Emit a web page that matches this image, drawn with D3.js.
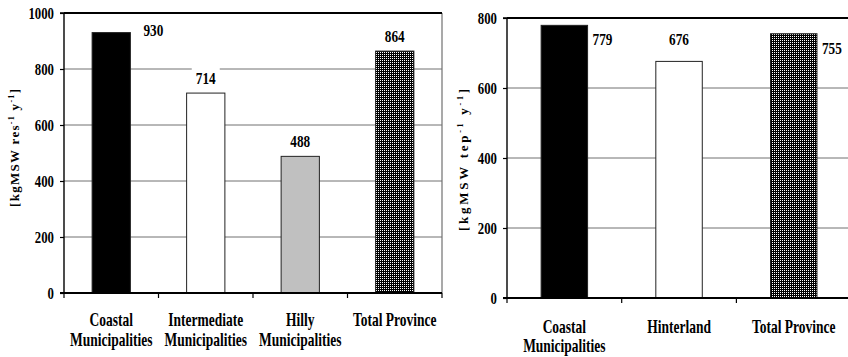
<!DOCTYPE html>
<html>
<head>
<meta charset="utf-8">
<script src="https://cdn.jsdelivr.net/npm/d3@7"></script>
<style>
  html, body { margin: 0; padding: 0; background: #fff; }
  svg { display: block; }
</style>
</head>
<body>
<svg id="chart" width="848" height="357"></svg>
<script>
// Specific municipal solid waste, per resident (left) and per equivalent inhabitant (right)
const residentCategories = [["Coastal", "Municipalities"], ["Intermediate", "Municipalities"], ["Hilly", "Municipalities"], ["Total Province"]];
const residentValues = [930, 714, 488, 864];
const residentTicks = [0, 200, 400, 600, 800, 1000];

const touristCategories = [["Coastal", "Municipalities"], ["Hinterland"], ["Total Province"]];
const touristValues = [779, 676, 755];
const touristTicks = [0, 200, 400, 600, 800];

const FONT = "'Liberation Serif', 'Times New Roman', 'DejaVu Serif', serif";

const svg = d3.select("#chart");

// fine black/white checkered fill for the provincial totals
const defs = svg.append("defs");
const pat = defs.append("pattern").attr("id", "checks")
  .attr("patternUnits", "userSpaceOnUse").attr("width", 2).attr("height", 2);
pat.append("rect").attr("width", 2).attr("height", 2).attr("fill", "#000");
pat.append("rect").attr("width", 1).attr("height", 1).attr("fill", "#fff");

// text drawn slightly condensed, like the narrow bold serif of the original figure
function label(g, x, y, str, size, sx, anchor) {
  return g.append("text")
    .attr("transform", `translate(${x},${y}) scale(${sx},1)`)
    .attr("font-family", FONT)
    .attr("font-weight", "bold")
    .attr("font-size", size)
    .attr("fill", "#000")
    .attr("text-anchor", anchor || "middle")
    .text(str);
}

function drawPanel(cfg) {
  const g = svg.append("g");
  const { x0, x1, y0, y1 } = cfg;
  const y = d3.scaleLinear().domain([0, cfg.max]).range([y0, y1]);
  const x = d3.scaleBand().domain(d3.range(cfg.values.length)).range([x0, x0 + cfg.step * cfg.values.length]).padding(0);
  const barW = x.bandwidth() * 0.405;

  // gridlines
  g.append("g").selectAll("line").data(cfg.ticks.filter(t => t > 0 && t < cfg.max)).join("line")
    .attr("x1", x0).attr("x2", x1).attr("y1", d => y(d)).attr("y2", d => y(d))
    .attr("stroke", "#707070").attr("stroke-width", 1);

  // right frame edge
  g.append("line").attr("x1", x1).attr("x2", x1).attr("y1", y1).attr("y2", y0)
    .attr("stroke", "#707070").attr("stroke-width", 1.2);

  // value label placement: above the bar, or beside it when it would hit the frame top
  const labels = cfg.values.map((v, i) => {
    const top = y(v);
    const cx = x(i) + x.bandwidth() / 2;
    if (top - y1 < 25) {
      return { v, side: true, x: cx + barW / 2 + cfg.sideDx, y: top + cfg.sideDy };
    }
    return { v, side: false, x: cx, y: top - cfg.aboveGap };
  });

  // white boxes behind the value labels
  g.append("g").selectAll("rect").data(labels).join("rect")
    .attr("x", d => (d.side ? d.x + 10 : d.x) - 14)
    .attr("y", d => d.y - 20)
    .attr("width", 28).attr("height", 26)
    .attr("fill", "#fff");

  // bars
  g.append("g").selectAll("rect").data(cfg.values).join("rect")
    .attr("x", (d, i) => x(i) + (x.bandwidth() - barW) / 2)
    .attr("y", d => y(d))
    .attr("width", barW)
    .attr("height", d => y0 - y(d))
    .attr("fill", (d, i) => cfg.fills[i])
    .attr("stroke", "#222").attr("stroke-width", 1);

  // top frame
  g.append("line").attr("x1", x0).attr("x2", Math.min(x1, 848)).attr("y1", y1).attr("y2", y1)
    .attr("stroke", "#000").attr("stroke-width", 1.8);

  // y axis with outward ticks
  const yAxis = d3.axisLeft(y).tickValues(cfg.ticks).tickSize(4).tickFormat("");
  const ya = g.append("g").attr("transform", `translate(${x0},0)`).call(yAxis);
  ya.select(".domain").attr("stroke", "#000").attr("stroke-width", 1.4).attr("d", `M-4,${y0}H0V${y1}H-4`);
  ya.selectAll(".tick line").attr("stroke", "#000").attr("stroke-width", 1.2);
  cfg.ticks.forEach(t => label(g, x0 - 10, y(t) + 5.5, String(t), 16, 0.8, "end"));

  // x axis with ticks on the category boundaries
  const bounds = d3.range(cfg.values.length + 1).map(i => x0 + i * cfg.step);
  g.append("line").attr("x1", x0 - 4).attr("x2", Math.min(x1, 848)).attr("y1", y0).attr("y2", y0)
    .attr("stroke", "#000").attr("stroke-width", 2);
  g.append("g").selectAll("line").data(bounds).join("line")
    .attr("x1", d => d).attr("x2", d => d).attr("y1", y0).attr("y2", y0 + 5)
    .attr("stroke", "#000").attr("stroke-width", 1.2);

  // category names
  cfg.categories.forEach((lines, i) => {
    const cx = x(i) + x.bandwidth() / 2;
    lines.forEach((s, k) => label(g, cx, y0 + cfg.catDy + k * cfg.catLine, s, 18, 0.75));
  });

  // value labels
  labels.forEach(d => label(g, d.x, d.y, String(d.v), 17, 0.78, d.side ? "start" : "middle"));

  // rotated unit title
  const t = g.append("text")
    .attr("transform", `translate(${cfg.titleX},${cfg.titleY}) rotate(-90)`)
    .attr("font-family", FONT)
    .attr("font-weight", "bold")
    .attr("font-size", 13)
    .attr("text-anchor", "middle")
    .attr("textLength", cfg.titleLen).attr("lengthAdjust", "spacing");
  t.append("tspan").text("[kgMSW " + cfg.unit);
  t.append("tspan").attr("font-size", 8).attr("dy", -5).text("-1");
  t.append("tspan").attr("dy", 5).text(" y");
  t.append("tspan").attr("font-size", 8).attr("dy", -5).text("-1");
  t.append("tspan").attr("dy", 5).text("]");
}

drawPanel({
  categories: residentCategories, values: residentValues, ticks: residentTicks, max: 1000,
  fills: ["#000", "#fff", "#c0c0c0", "url(#checks)"],
  x0: 64, x1: 442, y0: 293, y1: 13, step: 94.5,
  sideDx: 13, sideDy: 3.5, aboveGap: 9,
  catDy: 33, catLine: 20,
  unit: "res", titleX: 19, titleY: 148, titleLen: 118
});

drawPanel({
  categories: touristCategories, values: touristValues, ticks: touristTicks, max: 800,
  fills: ["#000", "#fff", "url(#checks)"],
  x0: 507, x1: 851, y0: 298, y1: 18, step: 114.7,
  sideDx: 5, sideDy: 20, aboveGap: 16,
  catDy: 35, catLine: 19,
  unit: "tep", titleX: 468, titleY: 160, titleLen: 142
});
</script>
</body>
</html>
